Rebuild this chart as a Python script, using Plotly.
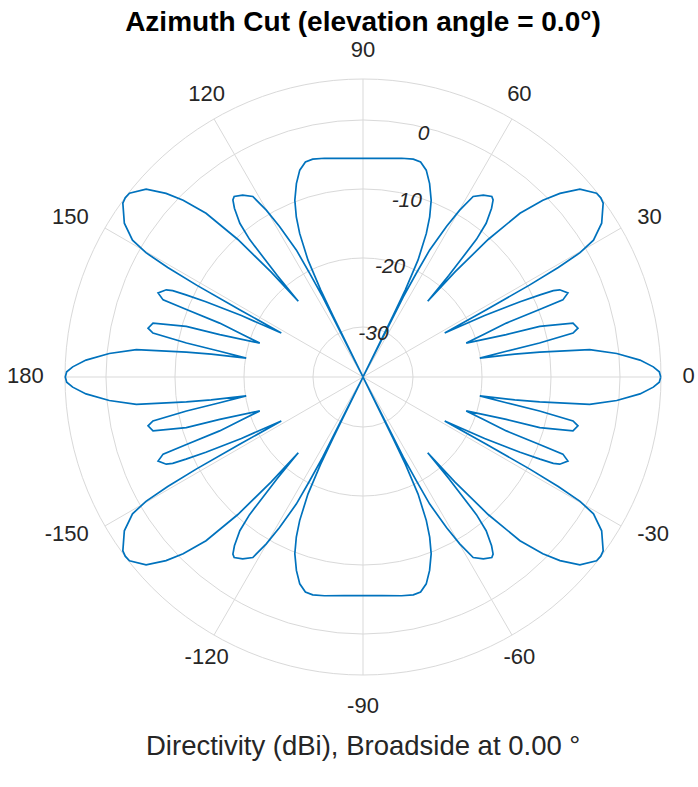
import math
import plotly.graph_objects as go

# directivity read off the first quadrant (azimuth deg, dBi); the pattern is
# mirror-symmetric about both the 0-180 and the 90/-90 axes
quad_az = [0, 1, 2, 3.5, 5.3, 6.9, 8.0, 8.6, 9.2,
           10.2, 10.9, 11.8, 12.8, 14.4, 16.0, 16.5, 18.2,
           19.4, 20.6, 20.9, 21.1, 22.3, 23.9, 24.4, 24.9, 25.6, 26.8, 28.3,
           28.6, 28.9, 29.3, 29.8, 30.7, 32.8, 35.9, 37.0, 38.2, 40.9, 43.0,
           44.5, 46.2, 47.7, 48.8, 49.5,
           49.8, 50.5, 51.3, 52.7, 53.7, 54.5, 56.5, 58.6, 59.9, 61.0, 62.3,
           62.8, 63.3, 63.7,
           63.9, 64.1, 64.8, 66.2, 67.4, 68.9, 71.0, 73.0, 75.0, 77.0, 80.0,
           85.0, 90.0]
quad_db = [5.9, 5.7, 4.85, 2.97, -0.32, -4.16, -11.4, -15.0, -20.1,
           -16.15, -11.2, -6.15, -5.3, -5.83, -10.6, -15.6, -21.5,
           -18.8, -15.05, -9.86, -6.2, -5.15, -6.06, -6.96, -8.97, -12.0, -17.5, -23.8,
           -16.96, -9.7, -4.8, -1.0, 1.6, 3.9, 5.72, 5.9, 5.82, 4.34, 1.78,
           -0.7, -4.38, -10.3, -17.0, -22.8,
           -18.0, -11.4, -8.7, -6.5, -5.4, -5.1, -5.65, -6.6, -9.3, -12.3, -16.45,
           -20.35, -24.25, -37.2,
           -27.5, -23.2, -18.5, -14.5, -12.1, -9.8, -7.6, -5.9, -5.0, -4.85, -5.06,
           -5.44, -5.55]

r_min = -37.25
r_max = 5.94
ring_vals = [-30, -20, -10, 0]
ring_text = ['-30', '-20', '-10', '0']
ang_vals = [0, 30, 60, 90, 120, 150, 180, 210, 240, 270, 300, 330]
ang_text = ['0', '30', '60', '90', '120', '150', '180', '-150', '-120', '-90', '-60', '-30']

# build the full cut from the quadrant
az = []
db = []
for a, d in zip(quad_az, quad_db):
    az.append(a); db.append(d)
for a, d in zip(reversed(quad_az), reversed(quad_db)):
    az.append(180 - a); db.append(d)
for a, d in zip(quad_az, quad_db):
    az.append(180 + a); db.append(d)
for a, d in zip(reversed(quad_az), reversed(quad_db)):
    az.append(360 - a); db.append(d)

grid = '#d9d9d9'
txt = '#262626'

# the polar frame is a bit larger than the outer ring so the angle labels fit inside it
R_RING = 298.0          # px radius of the outer ring
R_FRAME = 322.0         # px radius of the plotly polar frame
r_top = r_min + (r_max - r_min) * R_FRAME / R_RING
cx, cy = 363, 377


def label_pos(a):
    # text alignment like matlab's polar axes: pushed away from the circle
    c, s = math.cos(math.radians(a)), math.sin(math.radians(a))
    v = 'top' if s > 0.6 else ('bottom' if s < -0.6 else 'middle')
    h = 'right' if c > 0.6 else ('left' if c < -0.6 else 'center')
    return v + ' ' + h


def label_gap(a):
    # gap (dB) between outer ring and label anchor
    c, s = math.cos(math.radians(a)), math.sin(math.radians(a))
    g = 2.0 + 1.1 * abs(c) ** 3
    if abs(s) > 0.9:
        g += 0.4
    if s < -0.9:
        g += 0.7
    return g


spoke_r, spoke_t = [], []
for a in ang_vals:
    spoke_r += [r_min, r_max, None]
    spoke_t += [a, a, None]

fig = go.Figure()
fig.add_trace(go.Scatterpolar(r=spoke_r, theta=spoke_t, mode='lines',
                              line=dict(color=grid, width=1),
                              showlegend=False, hoverinfo='skip'))
fig.add_trace(go.Scatterpolar(r=db, theta=az, mode='lines',
                              line=dict(color='#0072BD', width=1.7),
                              showlegend=False, hoverinfo='skip'))
# angle labels just outside the outer ring
fig.add_trace(go.Scatterpolar(r=[r_max + label_gap(a) for a in ang_vals], theta=ang_vals,
                              mode='text', text=ang_text,
                              textposition=[label_pos(a) for a in ang_vals],
                              textfont=dict(size=22, color=txt),
                              cliponaxis=False, showlegend=False, hoverinfo='skip'))
# ring labels along the ~77 deg spoke
fig.add_trace(go.Scatterpolar(r=[v - 1.0 for v in ring_vals], theta=[76.0] * len(ring_vals),
                              mode='text', text=ring_text, textposition='middle center',
                              textfont=dict(size=21, color=txt, style='italic'),
                              cliponaxis=False, showlegend=False, hoverinfo='skip'))

fig.update_layout(
    width=698, height=787,
    paper_bgcolor='white',
    margin=dict(l=0, r=0, t=0, b=0),
    font=dict(family='Liberation Sans, Arial, sans-serif', color=txt),
    polar=dict(
        domain=dict(x=[(cx - R_FRAME) / 698, (cx + R_FRAME) / 698],
                    y=[(787 - cy - R_FRAME) / 787, (787 - cy + R_FRAME) / 787]),
        bgcolor='rgba(0,0,0,0)',
        angularaxis=dict(rotation=0, direction='counterclockwise',
                         showticklabels=False, ticks='',
                         showline=False, showgrid=False),
        radialaxis=dict(range=[r_min, r_top], angle=77,
                        tickmode='array', tickvals=ring_vals + [r_max],
                        showticklabels=False, ticks='', showline=False,
                        gridcolor=grid, gridwidth=1),
    ),
    title=dict(text='<b>Azimuth Cut (elevation angle = 0.0°)</b>',
               x=0.52, xanchor='center', y=0.973, yanchor='middle',
               font=dict(size=28, color='black')),
    annotations=[dict(text='Directivity (dBi), Broadside at 0.00 °',
                      x=0.52, y=(787 - 745) / 787, xref='paper', yref='paper',
                      xanchor='center', yanchor='middle', showarrow=False,
                      font=dict(size=27.5, color=txt))],
)

fig.write_html('out.html', config={'displayModeBar': False},
               post_script="document.body.style.margin='0';")
